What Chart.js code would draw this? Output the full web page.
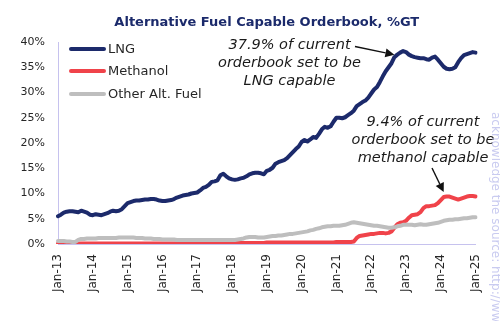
<!DOCTYPE html>
<html><head><meta charset="utf-8">
<script src="https://cdn.jsdelivr.net/npm/chart.js@4"></script>
<style>html,body{margin:0;padding:0;background:#fff}canvas{display:block}</style>
</head><body>
<canvas id="c" width="500" height="321"></canvas>
<script>
const years = ['13','14','15','16','17','18','19','20','21','22','23','24','25'];
const monthNames = ['Jan','Feb','Mar','Apr','May','Jun','Jul','Aug','Sep','Oct','Nov','Dec'];
const tickLabels = ['Jan-13','Jan-14','Jan-15','Jan-16','Jan-17','Jan-18','Jan-19','Jan-20','Jan-21','Jan-22','Jan-23','Jan-24','Jan-25'];
const yTickValues = [0,5,10,15,20,25,30,35,40];

const lng = [
 5.5,5.8,6.2,6.4,6.5,6.5,6.4,6.3,6.6,6.4,6.2,5.8,
 5.7,5.9,5.8,5.7,5.9,6.1,6.4,6.6,6.5,6.6,6.9,7.5,
 8.1,8.3,8.5,8.6,8.6,8.7,8.8,8.8,8.9,8.9,8.8,8.6,
 8.5,8.5,8.6,8.7,8.9,9.2,9.4,9.6,9.7,9.8,10.0,10.1,
 10.2,10.6,11.1,11.3,11.7,12.3,12.4,12.6,13.6,13.9,13.4,13.0,
 12.8,12.7,12.8,13.0,13.1,13.4,13.8,14.0,14.1,14.1,14.0,13.8,
 14.5,14.7,15.1,15.9,16.2,16.4,16.6,17.0,17.6,18.2,18.8,19.3,
 20.2,20.6,20.3,20.7,21.2,21.0,21.8,22.7,23.2,23.0,23.3,24.2,
 25.0,25.0,24.9,25.1,25.5,25.9,26.4,27.3,27.7,28.1,28.4,29.0,
 29.8,30.6,31.1,32.1,33.2,34.2,35.0,35.8,37.0,37.5,37.9,38.2,
 38.0,37.5,37.2,37.0,36.9,36.8,36.8,36.6,36.5,36.9,37.1,36.5,
 35.8,35.1,34.7,34.6,34.7,35.0,36.0,36.8,37.4,37.6,37.8,38.0,
 37.9
];
const methanol = [
 0.1,0.1,0.1,0.1,0.1,0.1,0.1,0.1,0.1,0.1,0.1,0.1,
 0.1,0.1,0.1,0.1,0.1,0.1,0.1,0.1,0.1,0.1,0.1,0.1,
 0.1,0.1,0.1,0.1,0.1,0.1,0.1,0.1,0.1,0.1,0.1,0.1,
 0.1,0.1,0.1,0.1,0.1,0.1,0.1,0.1,0.1,0.1,0.1,0.1,
 0.2,0.2,0.2,0.2,0.2,0.2,0.2,0.2,0.2,0.2,0.2,0.2,
 0.2,0.2,0.2,0.2,0.2,0.2,0.2,0.2,0.2,0.2,0.2,0.2,
 0.3,0.3,0.3,0.3,0.3,0.3,0.3,0.3,0.3,0.3,0.3,0.3,
 0.3,0.3,0.3,0.3,0.3,0.3,0.3,0.3,0.3,0.3,0.3,0.3,
 0.4,0.4,0.4,0.4,0.4,0.4,0.5,1.2,1.6,1.7,1.8,1.9,
 2.0,2.0,2.1,2.2,2.2,2.1,2.2,2.5,3.2,3.9,4.2,4.3,
 4.6,5.2,5.7,5.8,5.9,6.3,7.1,7.5,7.5,7.6,7.7,8.1,
 8.7,9.3,9.4,9.4,9.2,9.0,8.8,9.0,9.2,9.4,9.5,9.5,
 9.4
];
const otherAlt = [
 0.6,0.6,0.6,0.5,0.5,0.4,0.4,0.8,1.0,1.0,1.1,1.1,
 1.1,1.1,1.2,1.2,1.2,1.2,1.2,1.2,1.2,1.3,1.3,1.3,
 1.3,1.3,1.3,1.2,1.2,1.2,1.1,1.1,1.1,1.0,1.0,1.0,
 0.9,0.9,0.9,0.9,0.9,0.8,0.8,0.8,0.8,0.8,0.8,0.8,
 0.8,0.8,0.8,0.8,0.8,0.8,0.8,0.8,0.8,0.8,0.8,0.8,
 0.8,0.8,0.9,1.0,1.1,1.3,1.4,1.4,1.4,1.3,1.3,1.3,
 1.4,1.5,1.6,1.6,1.7,1.7,1.8,1.9,2.0,2.0,2.1,2.2,
 2.3,2.4,2.5,2.7,2.8,3.0,3.1,3.3,3.4,3.5,3.5,3.6,
 3.6,3.6,3.7,3.8,4.0,4.2,4.3,4.2,4.1,4.0,3.9,3.8,
 3.7,3.6,3.6,3.5,3.4,3.3,3.2,3.2,3.3,3.5,3.6,3.8,
 3.8,3.8,3.8,3.7,3.8,3.9,3.8,3.8,3.9,4.0,4.1,4.2,
 4.4,4.6,4.7,4.8,4.8,4.9,4.9,5.0,5.1,5.1,5.2,5.3,
 5.3
];

const seriesNames = ['LNG','Methanol','Other Alt. Fuel'];
const seriesColors = ['#1C2A6B','#F0434A','#BEBEBE'];
const annLng = ['37.9% of current','orderbook set to be','LNG capable'];
const annMeth = ['9.4% of current','orderbook set to be','methanol capable'];

// category labels (months)
const categories = [];
for (let y = 0; y < years.length - 1; y++) {
  for (let m = 0; m < 12; m++) categories.push(monthNames[m] + '-' + years[y]);
}
categories.push(monthNames[0] + '-' + years[years.length - 1]);

function arrow(ctx, x1, y1, x2, y2) {
  const a = Math.atan2(y2 - y1, x2 - x1);
  const head = 9, w = 4.5;
  const bx = x2 - head * Math.cos(a), by = y2 - head * Math.sin(a);
  ctx.beginPath();
  ctx.moveTo(x1, y1); ctx.lineTo(bx, by);
  ctx.lineWidth = 1.4; ctx.strokeStyle = '#111'; ctx.stroke();
  ctx.beginPath();
  ctx.moveTo(x2, y2);
  ctx.lineTo(bx + w * Math.sin(a), by - w * Math.cos(a));
  ctx.lineTo(bx - w * Math.sin(a), by + w * Math.cos(a));
  ctx.closePath(); ctx.fillStyle = '#111'; ctx.fill();
}

const overlay = {
  id: 'overlay',
  afterDatasetsDraw(chart) {
    const ctx = chart.ctx;
    const xs = chart.scales.x, ys = chart.scales.y;
    ctx.save();
    // legend
    const rows = [49, 71, 94];
    chart.data.datasets.forEach((ds, i) => {
      ctx.beginPath();
      ctx.moveTo(71, rows[i]); ctx.lineTo(104, rows[i]);
      ctx.lineWidth = 4; ctx.lineCap = 'round'; ctx.strokeStyle = ds.borderColor; ctx.stroke();
      ctx.font = '13px "DejaVu Sans"'; ctx.fillStyle = '#262626';
      ctx.textAlign = 'left'; ctx.textBaseline = 'middle';
      ctx.fillText(ds.label, 108, rows[i] + 0.5);
    });
    // annotations
    ctx.font = 'italic 14.5px "DejaVu Sans"'; ctx.fillStyle = '#1a1a1a';
    ctx.textAlign = 'center'; ctx.textBaseline = 'alphabetic';
    [49.3, 67, 84.5].forEach((y, i) => ctx.fillText(annLng[i], 289.5, y));
    [126, 144, 161.5].forEach((y, i) => ctx.fillText(annMeth[i], 423, y));
    ctx.lineCap = 'butt';
    const t1x = xs.getPixelForValue(116), t1y = ys.getPixelForValue(lng[116]) - 2.5;
    arrow(ctx, 355, 46.5, t1x, t1y);
    const t2x = xs.getPixelForValue(133), t2y = ys.getPixelForValue(methanol[133]) - 5;
    arrow(ctx, 432, 168, t2x, t2y);
    // watermark
    ctx.translate(495, 112);
    ctx.rotate(Math.PI / 2);
    ctx.font = '12px "DejaVu Sans"'; ctx.fillStyle = '#C9CBF0';
    ctx.textAlign = 'left'; ctx.textBaseline = 'middle';
    ctx.fillText('acknowledge the source: http://www.', 0, 0);
    ctx.restore();
  }
};

new Chart(document.getElementById('c'), {
  type: 'line',
  data: {
    labels: categories,
    datasets: [
      { label: seriesNames[0], data: lng, borderColor: seriesColors[0], borderWidth: 4, order: 2 },
      { label: seriesNames[1], data: methanol, borderColor: seriesColors[1], borderWidth: 4, order: 1 },
      { label: seriesNames[2], data: otherAlt, borderColor: seriesColors[2], borderWidth: 4, order: 0 }
    ]
  },
  options: {
    responsive: false, animation: false, devicePixelRatio: 1,
    layout: { padding: { left: 0, right: 22, top: 0, bottom: 0 } },
    elements: { point: { radius: 0 }, line: { tension: 0, borderJoinStyle: 'round', borderCapStyle: 'round', fill: false } },
    plugins: {
      legend: { display: false },
      tooltip: { enabled: false },
      title: {
        display: true, fullSize: false,
        text: 'Alternative Fuel Capable Orderbook, %GT',
        color: '#1B2A6B',
        font: { family: 'DejaVu Sans', size: 13, weight: 'bold', lineHeight: 1.2 },
        padding: { top: 15.2, bottom: 11.2 }
      }
    },
    scales: {
      x: {
        grid: { display: false, drawTicks: false },
        border: { display: true, color: '#C6C2EE', width: 1 },
        ticks: {
          autoSkip: false, maxRotation: 90, minRotation: 90, padding: 10,
          color: '#262626', font: { family: 'DejaVu Sans', size: 12 },
          callback: (v, i) => (i % 12 === 0 ? tickLabels[i / 12] : null)
        },
        afterFit: s => { s.height = 77; }
      },
      y: {
        min: 0, max: 40,
        grid: { display: false, drawTicks: false },
        border: { display: true, color: '#C6C2EE', width: 1 },
        afterBuildTicks: s => { s.ticks = yTickValues.map(v => ({ value: v })); },
        ticks: {
          padding: 13, color: '#262626', font: { family: 'DejaVu Sans', size: 11 },
          callback: v => v + '%'
        },
        afterFit: s => { s.width = 58; }
      }
    }
  },
  plugins: [overlay]
});
</script>
</body></html>
